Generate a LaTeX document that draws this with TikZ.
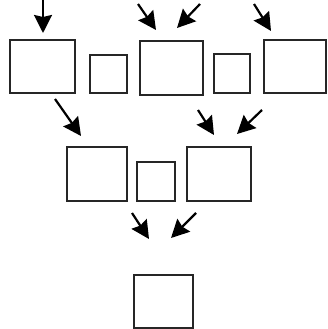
\documentclass[tikz,border=0pt]{standalone}
\usetikzlibrary{arrows.meta}
\begin{document}
\begin{tikzpicture}[x=1pt,y=-1pt,
  box/.style={draw=black!85,line width=2.2pt,inner sep=0pt,fill=white},
  arr/.style={draw=black,line width=2.2pt,-{Stealth[length=18pt,width=18pt,inset=2pt]}}]
\useasboundingbox (0,0) rectangle (327,329);
% row 1
\node[box,minimum width=65pt,minimum height=53pt] (A) at (42.5,66.5) {};
\node[box,minimum width=37pt,minimum height=38pt] (B) at (108.5,74) {};
\node[box,minimum width=63pt,minimum height=54pt] (C) at (171.5,68) {};
\node[box,minimum width=36pt,minimum height=39pt] (D) at (232,73.5) {};
\node[box,minimum width=62pt,minimum height=53pt] (E) at (295,66.5) {};
% row 2
\node[box,minimum width=60pt,minimum height=54pt] (F) at (97,174) {};
\node[box,minimum width=38pt,minimum height=39pt] (G) at (156,181.5) {};
\node[box,minimum width=64pt,minimum height=54pt] (H) at (219,174) {};
% row 3
\node[box,minimum width=59pt,minimum height=53pt] (I) at (163.5,301.5) {};
% arrow coordinates
\coordinate (s1) at (43,0);   \coordinate (e1) at (43,33);
\coordinate (s2) at (138,4);  \coordinate (e2) at (156,30);
\coordinate (s3) at (200,4);  \coordinate (e3) at (177,28);
\coordinate (s4) at (254,4);  \coordinate (e4) at (271,31);
\coordinate (s5) at (55,99);  \coordinate (e5) at (81,136);
\coordinate (s6) at (198,110); \coordinate (e6) at (214,135);
\coordinate (s7) at (262,110); \coordinate (e7) at (237,134);
\coordinate (s8) at (132,213); \coordinate (e8) at (149,239);
\coordinate (s9) at (196,213); \coordinate (e9) at (171,238);
\foreach \i in {1,...,9} \draw[arr] (s\i) -- (e\i);
\end{tikzpicture}
\end{document}
